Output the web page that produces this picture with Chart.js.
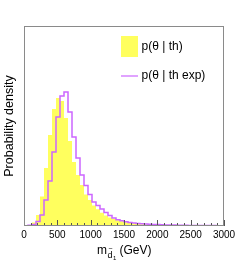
<!DOCTYPE html>
<html>
<head>
<meta charset="utf-8">
<script src="https://cdn.jsdelivr.net/npm/chart.js@4.4.0/dist/chart.umd.min.js"></script>
<style>
  html, body { margin: 0; padding: 0; background: #ffffff; }
  #wrap { width: 249px; height: 266px; }
</style>
</head>
<body>
<div id="wrap"><canvas id="c" width="249" height="266"></canvas></div>
<script>
// ---- data ----
const binWidth = 60;           // GeV
const xMin = 0, xMax = 3000;
const xTickLabels = [0, 500, 1000, 1500, 2000, 2500, 3000];
const seriesLabels = ['p(\u03b8 | th)', 'p(\u03b8 | th exp)'];

// p(theta | th)  -- filled yellow histogram (arbitrary density units)
const thValues = [
  0, 1, 3.5, 11, 29.5, 58, 91, 117, 128, 125,
  108, 85, 64, 51, 41, 31.5, 26, 20.5, 16.7, 13.3,
  10.5, 8.5, 7, 5.8, 4.7, 3.7, 3, 2.5, 2.1, 1.8,
  1.5, 1.3, 1.1, 1.0, 0.9, 0.8, 0.7, 0.6, 0.6, 0.5,
  0.5, 0.4, 0.4, 0.35, 0.3, 0.3, 0.25, 0.2, 0.2, 0.2
];
// p(theta | th exp) -- violet outline histogram
const thExpValues = [
  0.3, 0.7, 1.5, 4.5, 11, 26, 45, 74, 109, 130,
  134, 114, 89, 68, 51, 40.5, 31.5, 24, 20.5, 17,
  13.5, 10.5, 8, 6.3, 5.2, 4.3, 3.5, 3, 2.6, 2.3,
  2, 1.8, 1.6, 1.4, 1.2, 1.1, 1.0, 0.9, 0.8, 0.8,
  0.7, 0.6, 0.6, 0.5, 0.5, 0.4, 0.4, 0.4, 0.3, 0.3
];
const yMax = 200;

// ---- build step points (left bin edges + closing point) ----
function stepPoints(vals) {
  const pts = vals.map((v, i) => ({ x: i * binWidth, y: v }));
  pts.push({ x: vals.length * binWidth, y: vals[vals.length - 1] });
  return pts;
}

const FONT = "'Liberation Sans', Arial, Helvetica, sans-serif";
const YELLOW = '#ffff5e';
const VIOLET = '#cc66ff';

const decor = {
  id: 'decor',
  afterDatasetsDraw(chart) {
    const { ctx, chartArea: a, scales } = chart;
    const xs = scales.x;
    ctx.save();
    // ticks (inward, ROOT style)
    ctx.strokeStyle = '#555';
    ctx.lineWidth = 1;
    for (let v = xMin; v <= xMax; v += 100) {
      const px = Math.round(xs.getPixelForValue(v)) + 0.5;
      const len = (v % 500 === 0) ? 6 : 3;
      ctx.beginPath();
      ctx.moveTo(px, a.bottom);
      ctx.lineTo(px, a.bottom - len);
      ctx.stroke();
    }
    // frame
    ctx.strokeStyle = '#8a8a8a';
    ctx.strokeRect(a.left + 0.5, a.top + 0.5, a.right - a.left - 1, a.bottom - a.top - 1);
    ctx.restore();
  },
  afterDraw(chart) {
    const { ctx } = chart;
    ctx.save();
    ctx.fillStyle = '#000';
    ctx.textBaseline = 'alphabetic';
    ctx.textAlign = 'left';
    // x-axis title: m_{d~_1} (GeV)
    let x = 97;
    ctx.font = '12px ' + FONT;
    ctx.fillText('m', x, 253.5);
    x += ctx.measureText('m').width + 0.5;
    ctx.font = '9px ' + FONT;
    const dW = ctx.measureText('d').width;
    ctx.fillText('d', x, 257.5);
    ctx.font = '7px ' + FONT;
    const tW = ctx.measureText('~').width;
    ctx.fillText('~', x + (dW - tW) / 2 + 0.5, 251);
    ctx.font = '6px ' + FONT;
    ctx.fillText('1', x + dW + 0.5, 260);
    ctx.font = '12px ' + FONT;
    ctx.fillText('(GeV)', 119.5, 253.5);

    // legend
    ctx.fillStyle = YELLOW;
    ctx.fillRect(121, 36, 17, 21);
    ctx.strokeStyle = VIOLET;
    ctx.lineWidth = 1.2;
    ctx.beginPath();
    ctx.moveTo(121, 76);
    ctx.lineTo(138, 76);
    ctx.stroke();
    ctx.fillStyle = '#000';
    ctx.font = '12px ' + FONT;
    ctx.textBaseline = 'middle';
    ctx.fillText(seriesLabels[0], 141.5, 46.5);
    ctx.fillText(seriesLabels[1], 141.5, 76);
    ctx.restore();
  }
};

new Chart(document.getElementById('c'), {
  type: 'line',
  data: {
    datasets: [
      {
        label: seriesLabels[0],
        data: stepPoints(thValues),
        stepped: 'before',
        fill: 'origin',
        backgroundColor: YELLOW,
        borderWidth: 0,
        borderColor: 'rgba(0,0,0,0)',
        pointRadius: 0,
        order: 2
      },
      {
        label: seriesLabels[1],
        data: stepPoints(thExpValues),
        stepped: 'before',
        fill: false,
        borderColor: VIOLET,
        borderWidth: 1.5,
        pointRadius: 0,
        order: 1
      }
    ]
  },
  options: {
    responsive: false,
    animation: false,
    devicePixelRatio: 1,
    layout: { padding: { left: 0, right: 25, top: 26, bottom: 0 } },
    plugins: { legend: { display: false }, tooltip: { enabled: false } },
    scales: {
      x: {
        type: 'linear',
        min: xMin,
        max: xMax,
        afterFit: (s) => { s.height = 40; },
        afterBuildTicks: (s) => { s.ticks = xTickLabels.map(v => ({ value: v })); },
        ticks: {
          autoSkip: false,
          maxRotation: 0,
          padding: 3,
          color: '#000',
          font: { family: FONT, size: 10 },
          callback: (v) => String(v)
        },
        grid: { display: false, drawTicks: false },
        border: { display: false }
      },
      y: {
        min: 0,
        max: yMax,
        afterFit: (s) => { s.width = 24; },
        ticks: { display: false },
        grid: { display: false, drawTicks: false },
        border: { display: false },
        title: {
          display: true,
          text: 'Probability density',
          color: '#000',
          font: { family: FONT, size: 12.5 },
          padding: { top: 2, bottom: 0 }
        }
      }
    }
  },
  plugins: [decor]
});
</script>
</body>
</html>
